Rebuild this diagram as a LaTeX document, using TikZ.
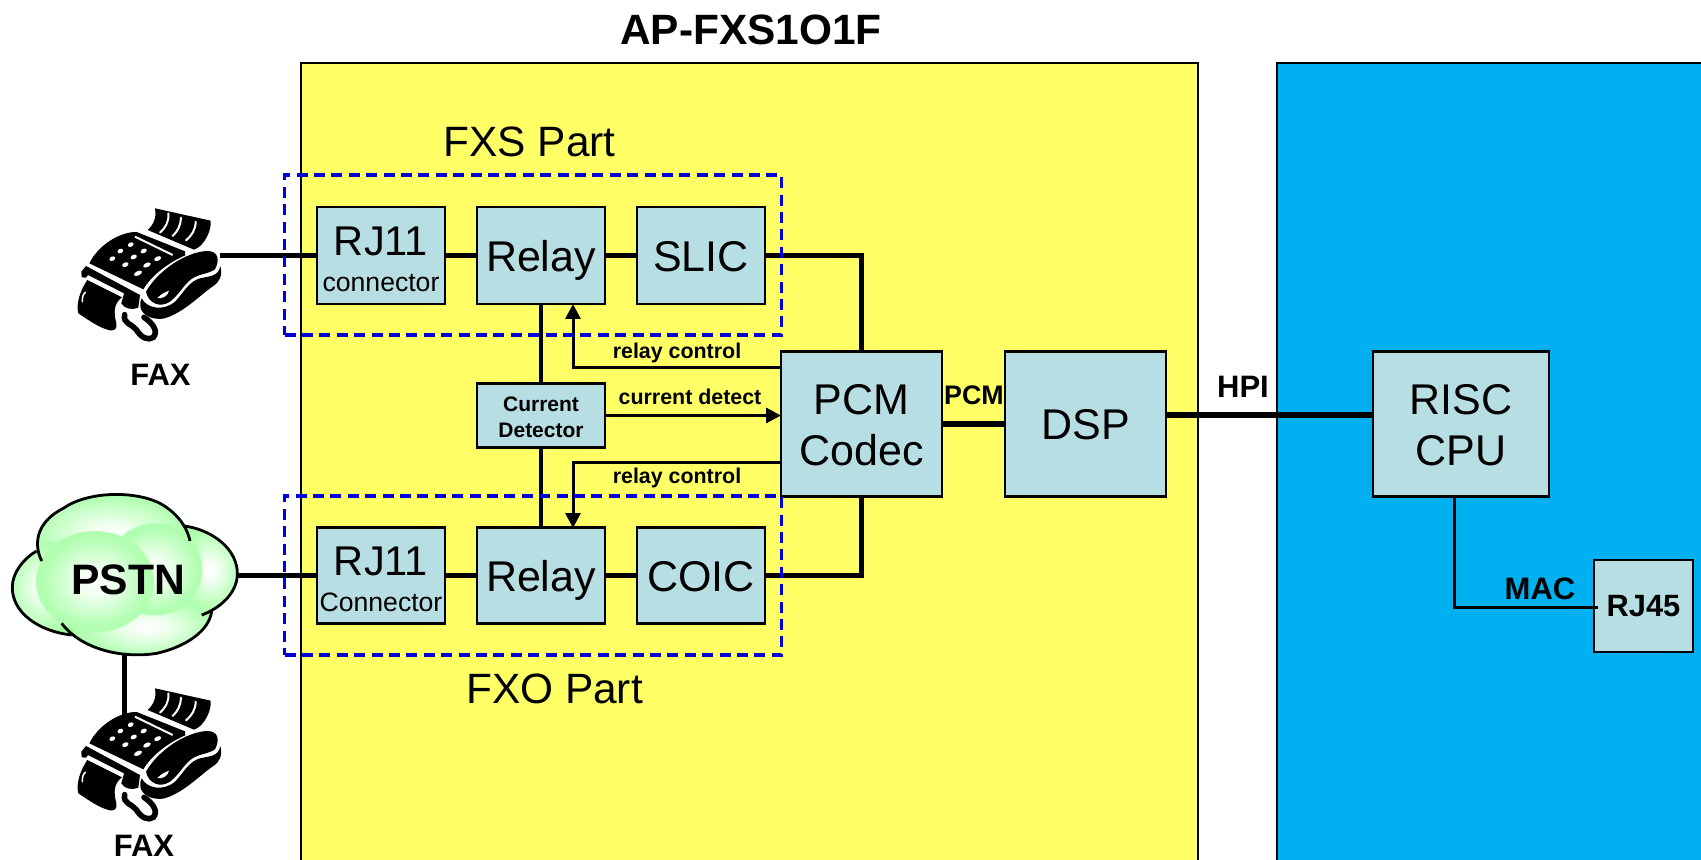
\documentclass[tikz,border=0pt]{standalone}
\usepackage{fontspec}
\setmainfont{Liberation Sans}
\usetikzlibrary{arrows.meta,calc}
\definecolor{panely}{HTML}{FFFF66}
\definecolor{panelb}{HTML}{00B0F0}
\definecolor{boxc}{HTML}{B7DEE3}
\definecolor{dashc}{HTML}{0000D8}
\definecolor{cloudbase}{HTML}{99FF99}
\pgfdeclareradialshading{cloudglow}{\pgfpoint{0bp}{0bp}}{rgb(0bp)=(1,1,1);rgb(6bp)=(.95,1,.95);rgb(22bp)=(.7,1,.7);rgb(50bp)=(.6,1,.6)}
\tikzset{
  bx/.style={draw=black,line width=1.15pt,fill=boxc,inner sep=0pt,align=center,font=\fontsize{21.5}{23}\selectfont},
  onetext/.style={text height=16pt,text depth=0pt},
  lbl/.style={inner sep=0pt,align=center},
  blbl/.style={lbl,font=\bfseries\fontsize{10.7}{12}\selectfont},
  big/.style={lbl,font=\fontsize{21.2}{24}\selectfont},
  fat/.style={lbl,font=\bfseries\fontsize{15.5}{18}\selectfont},
  wire/.style={line width=2.4pt,black},
  ctl/.style={line width=1.5pt,black},
  ctlarrow/.style={ctl,-{Triangle[length=7.5pt,width=7.5pt]},shorten >=0pt},
  dashbox/.style={draw=dashc,line width=1.7pt,dash pattern=on 5.5pt off 3.2pt,inner sep=0pt},
}
\newcommand{\faxart}{%
  % paper
  \fill (465,85) -- (632,122) .. controls (636,150) and (612,200) .. (582,209) -- (443,150) .. controls (462,132) and (470,112) .. (465,85) -- cycle;
  \draw[white,line width=1pt,line cap=round] (505,100) .. controls (508,125) and (495,145) .. (480,158);
  \draw[white,line width=1pt,line cap=round] (543,113) .. controls (543,135) and (532,155) .. (518,168);
  \draw[white,line width=1pt,line cap=round] (587,125) .. controls (587,148) and (575,168) .. (558,181);
  % body
  \fill (268,250) .. controls (295,195) and (360,155) .. (410,156) -- (555,214) -- (556,226) .. controls (510,245) and (455,285) .. (430,328) -- cycle;
  \draw[white,line width=1pt] (405,170) -- (518,225);
  \foreach \kx/\ky/\kr in {392/194/9,361/213/9,431/213/10,337/236/9,401/231/10,473/236/11,376/254/10,441/255/12,414/280/13}
    \fill[white] (\kx,\ky) ellipse [x radius=\kr,y radius=6.5,rotate=25];
  % strip
  \fill (245,292) -- (244,275) -- (258,258) -- (420,345) -- (415,383) .. controls (395,392) and (372,385) .. (364,370) .. controls (366,358) and (372,350) .. (372,340) -- (264,285) -- (258,293) -- cycle;
  % front block
  \fill (262,300) -- (366,352) .. controls (342,370) and (340,395) .. (349,430) .. controls (352,445) and (345,453) .. (330,451) .. controls (300,445) and (265,420) .. (235,400) .. controls (228,375) and (238,335) .. (262,300) -- cycle;
  \draw[white,line width=.8pt,line cap=round] (247,365) .. controls (246,352) and (250,342) .. (256,337);
  % handset
  \fill (438,335) .. controls (475,270) and (560,215) .. (622,213) .. controls (655,213) and (660,240) .. (645,268) .. controls (620,285) and (590,280) .. (565,305) .. controls (545,325) and (535,345) .. (510,365) .. controls (480,385) and (445,370) .. (438,335) -- cycle;
  \fill[white] (472,354) .. controls (485,340) and (500,335) .. (507,332) .. controls (505,345) and (490,358) .. (472,354) -- cycle;
  \fill (661,258) .. controls (668,285) and (660,305) .. (640,318) .. controls (600,345) and (550,400) .. (490,416) .. controls (455,420) and (425,405) .. (421,380) .. controls (419,370) and (421,362) .. (425,355) .. controls (440,385) and (490,395) .. (525,365) .. controls (550,340) and (565,305) .. (600,295) .. controls (630,288) and (655,290) .. (661,258) -- cycle;
  % cord
  \draw[line width=2.8pt,line cap=round] (374,404) .. controls (368,430) and (395,432) .. (408,448) .. controls (425,475) and (445,482) .. (460,472) .. controls (475,455) and (460,430) .. (432,412);
}
\begin{document}
\begin{tikzpicture}[x=0.5pt,y=-0.5pt]
\useasboundingbox (0,0) rectangle (1701,860);
% panels
\fill[panely] (300.5,860) -- (300.5,63) -- (1197.5,63) -- (1197.5,860) -- cycle;
\draw[line width=1pt] (300.5,860) -- (300.5,63) -- (1197.5,63) -- (1197.5,860);
\fill[panelb] (1277,860) -- (1277,63) -- (1701,63) -- (1701,860) -- cycle;
\draw[line width=1pt] (1277,860) -- (1277,63) -- (1701,63);
% title and captions
\node[lbl,font=\bfseries\fontsize{21.2}{24}\selectfont] (title) at (751,30) {AP-FXS1O1F};
\node[big] (fxslabel) at (529.5,142) {FXS Part};
\node[big] (fxolabel) at (554.5,689) {FXO Part};
% boxes
\node[bx,minimum width=64pt,minimum height=48.5pt] (rj1) at (381,255.5) {\rule{0pt}{18.2pt}{\fontsize{20.8}{23}\selectfont RJ11}\\[-5.3pt]{\fontsize{13.3}{15}\selectfont connector}};
\node[bx,onetext,minimum width=64pt,minimum height=48.5pt] (rel1) at (541,255.5) {Relay};
\node[bx,onetext,minimum width=64pt,minimum height=48.5pt] (slic) at (701,255.5) {SLIC};
\node[bx,minimum width=64pt,minimum height=48pt] (rj2) at (381,575.5) {\rule{0pt}{18.2pt}{\fontsize{20.8}{23}\selectfont RJ11}\\[-5.3pt]{\fontsize{13.3}{15}\selectfont Connector}};
\node[bx,onetext,minimum width=64pt,minimum height=48pt] (rel2) at (541,575.5) {Relay};
\node[bx,onetext,minimum width=64pt,minimum height=48pt] (coic) at (701,575.5) {COIC};
\node[bx,minimum width=64pt,minimum height=32pt,font=\bfseries\fontsize{10.5}{13}\selectfont] (cur) at (541,415.5) {\rule{0pt}{9pt}Current\\Detector};
\node[bx,minimum width=80.5pt,minimum height=72.5pt,font=\fontsize{21.5}{25.5}\selectfont] (pcm) at (861.5,424) {\rule{0pt}{16.2pt}PCM\\Codec};
\node[bx,text height=16pt,text depth=0pt,minimum width=80.5pt,minimum height=72.5pt] (dsp) at (1085.5,424) {DSP};
\node[bx,minimum width=88pt,minimum height=72.5pt,font=\fontsize{21.5}{25.5}\selectfont] (risc) at (1461,424) {\rule{0pt}{16.2pt}RISC\\CPU};
\node[bx,minimum width=49.5pt,minimum height=46pt,font=\bfseries\fontsize{15.4}{18}\selectfont] (rj45) at (1643.5,606) {RJ45};
% cloud
\begin{scope}[shift={(0,480)},scale=1/3]
  \def\cloudpath{(125,243) .. controls (95,180) and (120,120) .. (190,85) .. controls (260,35) and (400,30) .. (480,70) .. controls (520,90) and (545,115) .. (553,138) .. controls (640,150) and (715,210) .. (712,285) .. controls (710,340) and (675,375) .. (635,392) .. controls (630,450) and (560,500) .. (470,520) .. controls (380,535) and (270,515) .. (215,465) .. controls (120,455) and (35,400) .. (37,320) .. controls (37,280) and (70,235) .. (110,213) -- cycle}
  \fill[cloudbase] \cloudpath;
  \begin{scope}
    \clip \cloudpath;
    \shade[shading=cloudglow] (330,165) ellipse [x radius=250,y radius=130];
    \shade[shading=cloudglow] (130,320) ellipse [x radius=110,y radius=140];
    \shade[shading=cloudglow] (630,270) ellipse [x radius=100,y radius=130];
    \shade[shading=cloudglow] (440,440) ellipse [x radius=220,y radius=100];
    \shade[shading=cloudglow] (465,268) ellipse [x radius=142,y radius=138];
    \shade[shading=cloudglow] (285,305) ellipse [x radius=177,y radius=152];
  \end{scope}
  \draw[line width=1.4pt] (125,243) .. controls (95,180) and (120,120) .. (190,85) .. controls (260,35) and (400,30) .. (480,70) .. controls (525,95) and (560,135) .. (570,183);
  \draw[line width=1.4pt] (553,138) .. controls (640,150) and (715,210) .. (712,285) .. controls (710,340) and (660,385) .. (605,405);
  \draw[line width=1.4pt] (635,392) .. controls (630,450) and (560,500) .. (470,520) .. controls (380,535) and (250,515) .. (185,430);
  \draw[line width=1.4pt] (215,465) .. controls (120,455) and (35,400) .. (37,320) .. controls (37,280) and (70,235) .. (110,213);
\end{scope}
\node[lbl,font=\bfseries\fontsize{21.3}{24}\selectfont] (pstn) at (128,580) {PSTN};
\coordinate (pstnr) at (237,575.5);
\coordinate (pstnb) at (124.5,655);
% fax pictures
\begin{scope}[shift={(0,180)},scale=1/3] \faxart \end{scope}
\begin{scope}[shift={(0,660)},scale=1/3] \faxart \end{scope}
\coordinate (fax1) at (220,255.5);
\coordinate (fax2) at (124.5,716);
\node[fat] (faxa) at (160.5,375) {FAX};
\node[fat] (faxb) at (144,846) {FAX};
% connectors
\draw[wire] (fax1) -- (rj1.west);
\draw[wire] (rj1.east) -- (rel1.west);
\draw[wire] (rel1.east) -- (slic.west);
\draw[wire] (slic.east) -| (pcm.north);
\draw[wire] (pstnr) -- (rj2.west);
\draw[wire] (pstnb) -- (fax2);
\draw[wire] (rj2.east) -- (rel2.west);
\draw[wire] (rel2.east) -- (coic.west);
\draw[wire] (coic.east) -| (pcm.south);
\draw[wire] (rel1.south) -- (cur.north);
\draw[wire] (cur.south) -- (rel2.north);
\draw[line width=3pt] (pcm.east) -- (dsp.west);
\coordinate (dspout) at (1166,415);
\coordinate (riscin) at (1373,415);
\draw[line width=3pt] (dspout) -- (riscin);
\coordinate (ctl1) at (781,368);
\coordinate (ctl2) at (781,463);
\coordinate (curout) at (605,415.5);
\coordinate (curin) at (781,415.5);
\coordinate (ctlt) at (573,304);
\coordinate (ctlb) at (573,528);
\draw[ctlarrow] (ctl1) -| (ctlt);
\draw[ctlarrow] (ctl2) -| (ctlb);
\draw[ctlarrow] (curout) -- (curin);
\coordinate (riscb) at (1454,496);
\coordinate (macin) at (1598,607.5);
\draw[line width=1.5pt] (riscb) |- (macin);
% dashed groups
\node[dashbox,minimum width=248.5pt,minimum height=80pt] (fxs) at (533,255) {};
\node[dashbox,minimum width=248.5pt,minimum height=79.5pt] (fxo) at (533,575.5) {};
% labels
\node[blbl] (rc1) at (677,353) {relay control};
\node[blbl] (rc2) at (677,477.5) {relay control};
\node[blbl] (cd) at (690,396.5) {current detect};
\node[lbl,font=\bfseries\fontsize{13.4}{15}\selectfont] (pcmlbl) at (974,395) {PCM};
\node[lbl,font=\bfseries\fontsize{15.5}{18}\selectfont] (hpi) at (1243,387) {HPI};
\node[lbl,font=\bfseries\fontsize{15.5}{18}\selectfont] (mac) at (1540,589) {MAC};
\end{tikzpicture}
\end{document}
